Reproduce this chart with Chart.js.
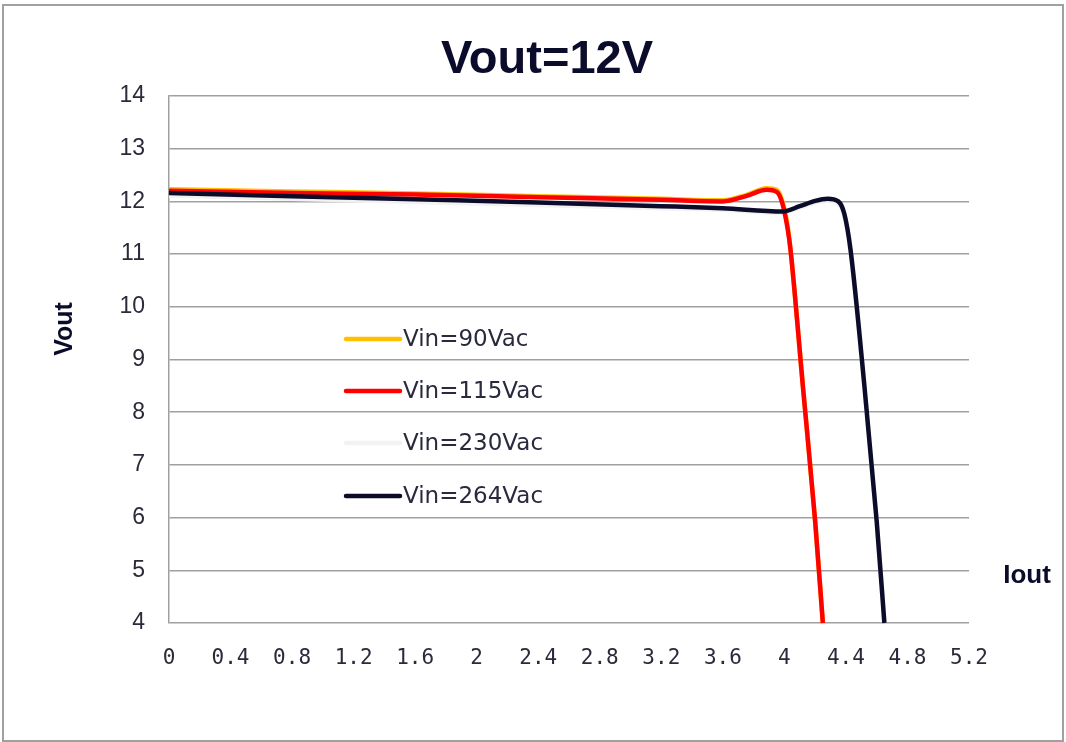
<!DOCTYPE html>
<html>
<head>
<meta charset="utf-8">
<script src="https://cdn.jsdelivr.net/npm/chart.js@4.4.1/dist/chart.umd.min.js"></script>
<style>
  html, body { margin: 0; padding: 0; background: #ffffff; }
  #wrap { position: relative; width: 1066px; height: 742px; }
  canvas { display: block; }
</style>
</head>
<body>
<div id="wrap"><canvas id="c" width="1066" height="742"></canvas></div>
<script>
// ---- data ----
const titleText = "Vout=12V";
const xTitle = "Iout";
const yTitle = "Vout";
const seriesNames = ["Vin=90Vac", "Vin=115Vac", "Vin=230Vac", "Vin=264Vac"];
const seriesColors = ["#FFC000", "#FF0000", "#F2F2F2", "#0C0C2A"];

const iout90  = [0, 0.8, 1.6, 2.4, 3.2, 3.6, 3.75, 3.885, 3.95, 3.985, 4.02, 4.04, 4.12, 4.20, 4.25];
const vout90  = [12.23, 12.19, 12.15, 12.10, 12.05, 12.02, 12.12, 12.25, 12.22, 12.02, 11.55, 11.08, 8.5, 5.93, 4.0];

const iout115 = [0, 0.8, 1.6, 2.4, 3.2, 3.6, 3.75, 3.885, 3.95, 3.985, 4.02, 4.04, 4.12, 4.20, 4.25];
const vout115 = [12.20, 12.16, 12.13, 12.08, 12.03, 12.00, 12.10, 12.22, 12.18, 11.98, 11.50, 11.08, 8.5, 5.93, 4.0];

const iout230 = [0, 0.8, 1.6, 2.4, 3.2, 3.6, 3.99, 4.1, 4.2, 4.28, 4.35, 4.39, 4.43, 4.52, 4.60, 4.65];
const vout230 = [12.11, 12.05, 11.99, 11.93, 11.87, 11.84, 11.78, 11.88, 11.98, 12.01, 11.96, 11.72, 11.06, 8.5, 5.93, 4.0];

const iout264 = [0, 0.8, 1.6, 2.4, 3.2, 3.6, 3.99, 4.1, 4.2, 4.28, 4.35, 4.39, 4.43, 4.52, 4.60, 4.65];
const vout264 = [12.16, 12.10, 12.04, 11.98, 11.91, 11.87, 11.81, 11.91, 12.01, 12.05, 12.0, 11.76, 11.08, 8.5, 5.93, 4.0];

const xMin = 0, xMax = 5.2, xStep = 0.4;
const yMin = 4, yMax = 14, yStep = 1;

function pts(xs, ys) { return xs.map((x, i) => ({ x: x, y: ys[i] })); }

const allX = [iout90, iout115, iout230, iout264];
const allY = [vout90, vout115, vout230, vout264];
const drawOrder = [2, 1, 3, 0]; // lower = drawn on top

const datasets = seriesNames.map((name, i) => ({
  label: name,
  data: pts(allX[i], allY[i]),
  borderColor: seriesColors[i],
  backgroundColor: seriesColors[i],
  borderWidth: 4.5,
  pointRadius: 0,
  pointHoverRadius: 0,
  cubicInterpolationMode: 'monotone',
  fill: false,
  order: drawOrder[i],
  clip: 6
}));

const textColor = "#0B0B2B";
const tickColor = "#2A2A3A";

const decorPlugin = {
  id: 'decor',
  beforeDraw(chart) {
    const ctx = chart.ctx;
    ctx.save();
    ctx.fillStyle = '#ffffff';
    ctx.fillRect(0, 0, chart.width, chart.height);
    ctx.restore();
  },
  afterDraw(chart) {
    const ctx = chart.ctx;
    ctx.save();
    // outer frame
    ctx.strokeStyle = '#A0A0A0';
    ctx.lineWidth = 2;
    ctx.strokeRect(3, 5, 1060, 736);

    // title
    ctx.fillStyle = textColor;
    ctx.font = 'bold 47px "Liberation Sans", Arial, sans-serif';
    ctx.textAlign = 'center';
    ctx.textBaseline = 'alphabetic';
    ctx.fillText(titleText, 547, 73);

    // y title (rotated)
    ctx.save();
    ctx.translate(72, 329);
    ctx.rotate(-Math.PI / 2);
    ctx.font = 'bold 25px "Liberation Sans", Arial, sans-serif';
    ctx.textAlign = 'center';
    ctx.textBaseline = 'alphabetic';
    ctx.fillText(yTitle, 0, 0);
    ctx.restore();

    // x title
    ctx.font = 'bold 26px "Liberation Sans", Arial, sans-serif';
    ctx.textAlign = 'center';
    ctx.textBaseline = 'alphabetic';
    ctx.fillText(xTitle, 1027, 583);

    // legend
    const rowsY = [339, 391, 443, 496];
    ctx.font = '23px "DejaVu Sans", Verdana, sans-serif';
    ctx.textAlign = 'left';
    ctx.textBaseline = 'middle';
    seriesNames.forEach((name, i) => {
      const y = rowsY[i];
      ctx.strokeStyle = seriesColors[i];
      ctx.lineWidth = 4.5;
      ctx.lineCap = 'round';
      ctx.beginPath();
      ctx.moveTo(346, y);
      ctx.lineTo(400, y);
      ctx.stroke();
      ctx.fillStyle = '#2A2A3E';
      ctx.fillText(name, 403, y + 1);
    });
    ctx.restore();
  }
};

new Chart(document.getElementById('c'), {
  type: 'line',
  data: { datasets: datasets },
  options: {
    responsive: false,
    animation: false,
    devicePixelRatio: 1,
    layout: { padding: { top: 96, right: 97, left: 0, bottom: 0 } },
    plugins: {
      legend: { display: false },
      title: { display: false },
      tooltip: { enabled: false }
    },
    scales: {
      x: {
        type: 'linear',
        min: xMin, max: xMax,
        afterFit(scale) { scale.height = 119; },
        grid: { display: false, drawTicks: false },
        border: { display: false },
        ticks: {
          stepSize: xStep,
          autoSkip: false,
          maxRotation: 0,
          padding: 23,
          color: tickColor,
          font: { family: '"DejaVu Sans Mono", "Liberation Mono", monospace', size: 21 },
          callback: (v) => String(parseFloat(Number(v).toFixed(1)))
        }
      },
      y: {
        type: 'linear',
        min: yMin, max: yMax,
        afterFit(scale) { scale.width = 169; },
        grid: { color: '#A0A0A0', lineWidth: 1.5, drawTicks: false },
        border: { display: true, color: '#A0A0A0', width: 1.5 },
        ticks: {
          stepSize: yStep,
          padding: 24,
          color: tickColor,
          font: { family: '"Liberation Sans", Arial, sans-serif', size: 23 }
        }
      }
    }
  },
  plugins: [decorPlugin]
});
</script>
</body>
</html>
